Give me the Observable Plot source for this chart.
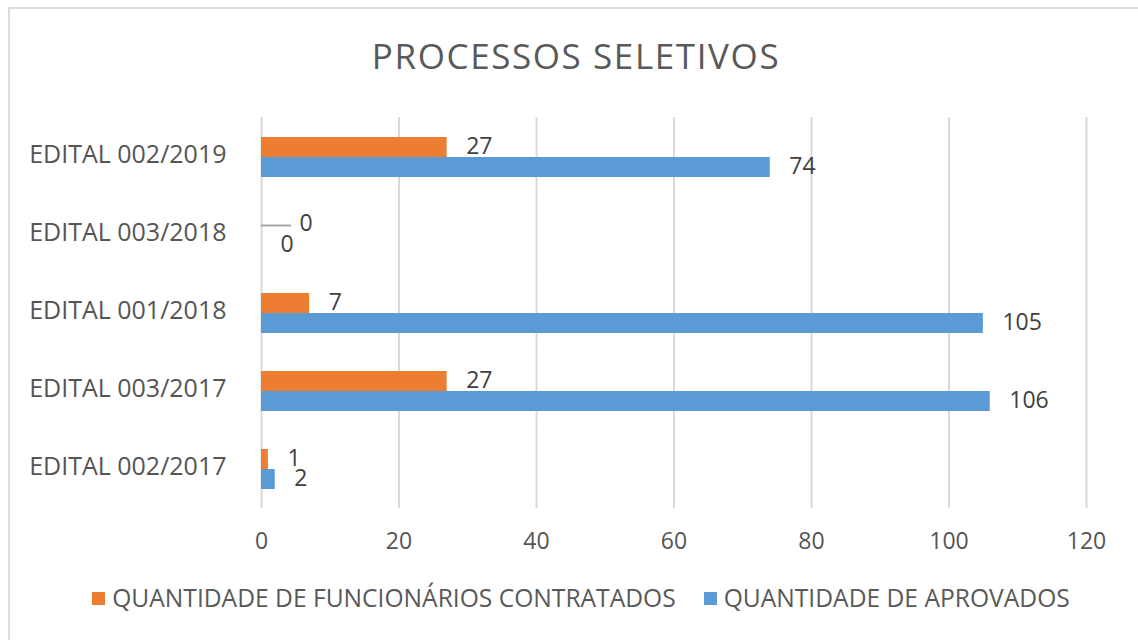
<!DOCTYPE html>
<html><head><meta charset="utf-8">
<script src="https://cdn.jsdelivr.net/npm/d3@7"></script>
<script src="https://cdn.jsdelivr.net/npm/@observablehq/plot@0.6"></script>
<style>
body{margin:0;background:#fff;font-family:"Open Sans",sans-serif;}
#page{position:relative;width:1138px;height:640px;overflow:hidden;background:#fff;}
#frame{position:absolute;left:8px;top:7px;width:1200px;height:700px;border-left:2px solid #dcdcdc;border-top:2px solid #dcdcdc;}
#title{position:absolute;left:0;top:31px;width:1152px;text-align:center;font-size:35px;letter-spacing:1.6px;color:#595959;line-height:50px;}
#chart{position:absolute;left:0;top:100px;}
#legend{position:absolute;top:582px;left:0;width:1162px;display:flex;justify-content:center;gap:28px;font-size:24.6px;color:#595959;line-height:32px;}
.item{display:flex;align-items:center;}
.sw{width:13px;height:13px;margin-right:7px;}
</style></head>
<body><div id="page"><div id="frame"></div><div id="title">PROCESSOS SELETIVOS</div><div id="chart"></div><div id="legend"></div></div>
<script>
const categories = ["EDITAL 002/2019","EDITAL 003/2018","EDITAL 001/2018","EDITAL 003/2017","EDITAL 002/2017"];
const series = ["QUANTIDADE DE FUNCIONÁRIOS CONTRATADOS","QUANTIDADE DE APROVADOS"];
const contratados = [27,0,7,27,1];
const aprovados = [74,0,105,106,2];
const xTicks = [0,20,40,60,80,100,120];
const colors = ["#ED7D31","#5B9BD5"];

const data = categories.flatMap((c,i)=>[
  {category:c, series:series[0], value:contratados[i]},
  {category:c, series:series[1], value:aprovados[i]}
]);
const zeroOrange = data.filter(d=>d.series===series[0] && d.value===0);
const normal = data.filter(d=>!(d.series===series[0] && d.value===0));

const chart = Plot.plot({
  width:1138, height:470,
  marginLeft:261, marginRight:52, marginTop:16, marginBottom:61,
  style:{fontFamily:"Open Sans", fontSize:"23px", color:"#595959", background:"transparent", overflow:"visible"},
  x:{domain:[0,120], ticks:xTicks, axis:null},
  fy:{domain:categories, paddingInner:0.48, paddingOuter:0.24, axis:null},
  y:{domain:series, padding:0, axis:null},
  color:{domain:series, range:colors},
  marks:[
    Plot.ruleX(xTicks, {stroke:"#d9d9d9", strokeWidth:2, insetTop:-19, insetBottom:-19}),
    Plot.barX(data, {fy:"category", y:"series", x:"value", fill:"series"}),
    Plot.text(normal, {fy:"category", y:"series", x:"value", text:d=>String(d.value), textAnchor:"start", dx:19, dy:-1, fill:"#404040", fontSize:23}),
    Plot.ruleY(zeroOrange, {fy:"category", y:"series", x1:"value", x2:"value", insetRight:-30, stroke:"#a6a6a6", strokeWidth:2}),
    Plot.text(zeroOrange, {fy:"category", y:"series", x:"value", text:d=>String(d.value), textAnchor:"start", dx:38, dy:-2, fill:"#404040", fontSize:23}),
    Plot.axisFy({anchor:"left", tickSize:0, tickPadding:35, fontSize:25, dy:-2, label:null, fill:"#555555"}),
    Plot.axisX({ticks:xTicks, tickSize:0, tickPadding:43, fontSize:23, label:null, fill:"#555555"})
  ]
});
document.getElementById("chart").appendChild(chart);

const legend = document.getElementById("legend");
series.forEach((s,i)=>{
  const it = document.createElement("div"); it.className="item";
  const sw = document.createElement("div"); sw.className="sw"; sw.style.background=colors[i];
  const tx = document.createElement("span"); tx.textContent=s;
  it.appendChild(sw); it.appendChild(tx); legend.appendChild(it);
});
</script></body></html>
